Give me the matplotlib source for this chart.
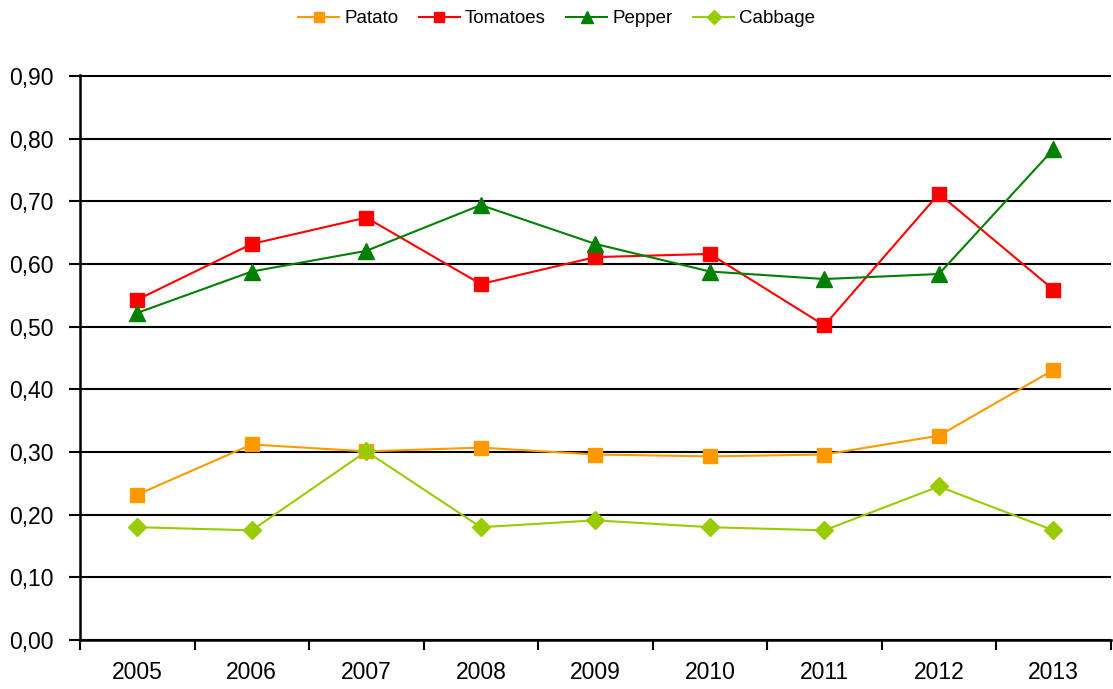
import matplotlib.pyplot as plt
import matplotlib.ticker as mticker
import numpy as np

plt.rcParams['font.family'] = ['Liberation Sans', 'DejaVu Sans']

years = ['2005', '2006', '2007', '2008', '2009', '2010', '2011', '2012', '2013']
patato = [0.232, 0.312, 0.301, 0.307, 0.296, 0.293, 0.296, 0.326, 0.431]
tomatoes = [0.543, 0.632, 0.674, 0.568, 0.611, 0.616, 0.502, 0.712, 0.559]
pepper = [0.522, 0.588, 0.621, 0.694, 0.632, 0.588, 0.576, 0.584, 0.783]
cabbage = [0.180, 0.175, 0.301, 0.180, 0.191, 0.180, 0.175, 0.245, 0.175]

x = np.arange(len(years))

fig = plt.figure(figsize=(11.13, 6.89), dpi=100)
ax = fig.add_axes([0.0719, 0.0711, 0.926, 0.820])

ax.plot(x, patato, color='#FF9900', marker='s', markersize=10, lw=1.5, label='Patato')
ax.plot(x, tomatoes, color='#FF0000', marker='s', markersize=10, lw=1.5, label='Tomatoes')
ax.plot(x, pepper, color='#008000', marker='^', markersize=11, lw=1.5, label='Pepper')
ax.plot(x, cabbage, color='#99CC00', marker='D', markersize=9, lw=1.5, label='Cabbage')

ax.set_xlim(-0.5, len(years) - 0.5)
ax.set_ylim(0, 0.9015)
ax.set_yticks(np.arange(0, 0.91, 0.1))
ax.yaxis.set_major_formatter(mticker.FuncFormatter(lambda v, p: f'{v:.2f}'.replace('.', ',')))
ax.grid(axis='y', color='black', lw=1.5)
ax.set_axisbelow(True)

ax.set_xticks(x)
ax.set_xticklabels(years)
ax.set_xticks(np.arange(-0.5, len(years), 1), minor=True)
ax.tick_params(axis='x', which='major', length=0, pad=15, labelsize=16.5)
ax.tick_params(axis='x', which='minor', length=7, width=1.5, direction='out')
ax.tick_params(axis='y', length=8, width=1.5, labelsize=16.5, pad=11)

ax.spines['top'].set_visible(False)
ax.spines['right'].set_visible(False)
ax.spines['left'].set_linewidth(1.8)
ax.spines['bottom'].set_linewidth(1.8)

fig.legend(loc='upper center', bbox_to_anchor=(0.5, 1.01), ncol=4, frameon=False,
           fontsize=13.5, handlelength=2.2, handletextpad=0.25, columnspacing=1.1,
           markerscale=0.75)

fig.savefig('out.png', dpi=100)
